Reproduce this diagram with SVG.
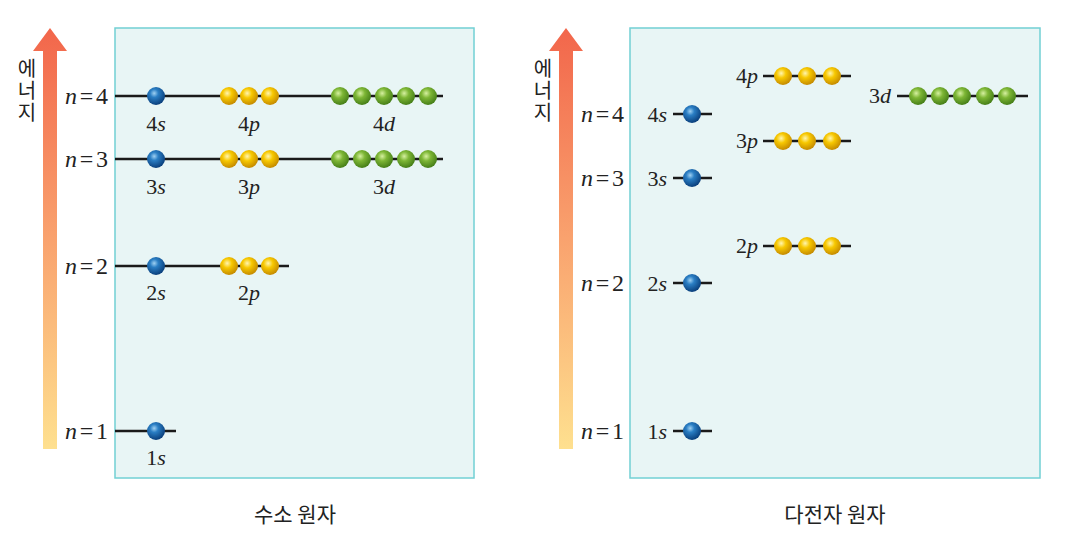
<svg xmlns="http://www.w3.org/2000/svg" width="1069" height="544" viewBox="0 0 1069 544">
<defs>
<linearGradient id="ag" x1="0" y1="0" x2="0" y2="1">
<stop offset="0" stop-color="#f2664b"/>
<stop offset="0.5" stop-color="#f9a26e"/>
<stop offset="1" stop-color="#fee08f"/>
</linearGradient>
<radialGradient id="gb" cx="0.4" cy="0.35" r="0.65">
<stop offset="0" stop-color="#9fd0f2"/>
<stop offset="0.35" stop-color="#2a7ec4"/>
<stop offset="1" stop-color="#0a3f7c"/>
</radialGradient>
<radialGradient id="gy" cx="0.4" cy="0.35" r="0.65">
<stop offset="0" stop-color="#fff5b0"/>
<stop offset="0.4" stop-color="#f7c800"/>
<stop offset="1" stop-color="#c58b00"/>
</radialGradient>
<radialGradient id="gg" cx="0.4" cy="0.35" r="0.65">
<stop offset="0" stop-color="#d6f0a0"/>
<stop offset="0.4" stop-color="#7db635"/>
<stop offset="1" stop-color="#467f18"/>
</radialGradient>
</defs>
<style>
.panel{fill:#e8f5f5;stroke:#72d0d4;stroke-width:1.5}
.lv{stroke:#1a1a1a;stroke-width:2.5}
.b{fill:url(#gb)}
.y{fill:url(#gy)}
.g{fill:url(#gg)}
.m{font-family:'Liberation Serif',serif;font-size:24px;fill:#222}
.s{font-family:'Liberation Serif',serif;font-size:22px;fill:#222}
.i{font-style:italic}
.k{font-family:'Noto Sans CJK KR',sans-serif;font-size:20px;fill:#222;writing-mode:vertical-rl;letter-spacing:2px}
.cap{font-family:'Noto Sans CJK KR',sans-serif;font-size:21px;fill:#222;text-anchor:middle}
</style>

<g id="left-panel">
<rect class="panel" x="115" y="28" width="359" height="450"/>
<path d="M43,449 V51 H33 L50,28 L67,51 H57 V449 Z" fill="url(#ag)"/>
<text class="k" x="27" y="58">에너지</text>
<text class="cap" x="295" y="522">수소 원자</text>
</g>

<g id="left-levels">
<g id="h-n4">
<line class="lv" x1="115" y1="96" x2="443" y2="96"/>
<circle class="b" cx="156" cy="96" r="9"/>
<circle class="y" cx="229" cy="96" r="9"/><circle class="y" cx="249" cy="96" r="9"/><circle class="y" cx="270" cy="96" r="9"/>
<circle class="g" cx="340" cy="96" r="9"/><circle class="g" cx="362" cy="96" r="9"/><circle class="g" cx="384" cy="96" r="9"/><circle class="g" cx="406" cy="96" r="9"/><circle class="g" cx="428" cy="96" r="9"/>
<text class="m" x="65" y="104" textLength="43" lengthAdjust="spacing"><tspan class="i">n</tspan>=4</text>
<text class="s" x="156" y="131" text-anchor="middle">4<tspan class="i">s</tspan></text>
<text class="s" x="249" y="131" text-anchor="middle">4<tspan class="i">p</tspan></text>
<text class="s" x="384" y="131" text-anchor="middle">4<tspan class="i">d</tspan></text>
</g>
<g id="h-n3">
<line class="lv" x1="115" y1="159" x2="443" y2="159"/>
<circle class="b" cx="156" cy="159" r="9"/>
<circle class="y" cx="229" cy="159" r="9"/><circle class="y" cx="249" cy="159" r="9"/><circle class="y" cx="270" cy="159" r="9"/>
<circle class="g" cx="340" cy="159" r="9"/><circle class="g" cx="362" cy="159" r="9"/><circle class="g" cx="384" cy="159" r="9"/><circle class="g" cx="406" cy="159" r="9"/><circle class="g" cx="428" cy="159" r="9"/>
<text class="m" x="65" y="167" textLength="43" lengthAdjust="spacing"><tspan class="i">n</tspan>=3</text>
<text class="s" x="156" y="194" text-anchor="middle">3<tspan class="i">s</tspan></text>
<text class="s" x="249" y="194" text-anchor="middle">3<tspan class="i">p</tspan></text>
<text class="s" x="384" y="194" text-anchor="middle">3<tspan class="i">d</tspan></text>
</g>
<g id="h-n2">
<line class="lv" x1="115" y1="266" x2="289" y2="266"/>
<circle class="b" cx="156" cy="266" r="9"/>
<circle class="y" cx="229" cy="266" r="9"/><circle class="y" cx="249" cy="266" r="9"/><circle class="y" cx="270" cy="266" r="9"/>
<text class="m" x="65" y="274" textLength="43" lengthAdjust="spacing"><tspan class="i">n</tspan>=2</text>
<text class="s" x="156" y="300" text-anchor="middle">2<tspan class="i">s</tspan></text>
<text class="s" x="249" y="300" text-anchor="middle">2<tspan class="i">p</tspan></text>
</g>
<g id="h-n1">
<line class="lv" x1="115" y1="431" x2="176" y2="431"/>
<circle class="b" cx="156" cy="431" r="9"/>
<text class="m" x="65" y="439" textLength="43" lengthAdjust="spacing"><tspan class="i">n</tspan>=1</text>
<text class="s" x="156" y="465" text-anchor="middle">1<tspan class="i">s</tspan></text>
</g>
</g>

<g id="right-panel">
<rect class="panel" x="630" y="28" width="410" height="450"/>
<path d="M559,449 V51 H549 L566,28 L583,51 H573 V449 Z" fill="url(#ag)"/>
<text class="k" x="543" y="58">에너지</text>
<text class="cap" x="835" y="522">다전자 원자</text>
</g>

<g id="right-levels">
<g id="m-n4">
<text class="m" x="581" y="122" textLength="43" lengthAdjust="spacing"><tspan class="i">n</tspan>=4</text>
<line class="lv" x1="673" y1="114" x2="712" y2="114"/>
<circle class="b" cx="692" cy="114" r="9"/>
<text class="s" x="667" y="122" text-anchor="end">4<tspan class="i">s</tspan></text>
</g>
<g id="m-n3">
<text class="m" x="581" y="186" textLength="43" lengthAdjust="spacing"><tspan class="i">n</tspan>=3</text>
<line class="lv" x1="673" y1="178" x2="712" y2="178"/>
<circle class="b" cx="692" cy="178" r="9"/>
<text class="s" x="667" y="186" text-anchor="end">3<tspan class="i">s</tspan></text>
</g>
<g id="m-n2">
<text class="m" x="581" y="291" textLength="43" lengthAdjust="spacing"><tspan class="i">n</tspan>=2</text>
<line class="lv" x1="673" y1="283" x2="712" y2="283"/>
<circle class="b" cx="692" cy="283" r="9"/>
<text class="s" x="667" y="291" text-anchor="end">2<tspan class="i">s</tspan></text>
</g>
<g id="m-n1">
<text class="m" x="581" y="439" textLength="43" lengthAdjust="spacing"><tspan class="i">n</tspan>=1</text>
<line class="lv" x1="673" y1="431" x2="712" y2="431"/>
<circle class="b" cx="692" cy="431" r="9"/>
<text class="s" x="667" y="439" text-anchor="end">1<tspan class="i">s</tspan></text>
</g>
<g id="m-4p">
<line class="lv" x1="763" y1="76" x2="851" y2="76"/>
<circle class="y" cx="783" cy="76" r="9"/><circle class="y" cx="807" cy="76" r="9"/><circle class="y" cx="832" cy="76" r="9"/>
<text class="s" x="758" y="83" text-anchor="end">4<tspan class="i">p</tspan></text>
</g>
<g id="m-3p">
<line class="lv" x1="763" y1="141" x2="851" y2="141"/>
<circle class="y" cx="783" cy="141" r="9"/><circle class="y" cx="807" cy="141" r="9"/><circle class="y" cx="832" cy="141" r="9"/>
<text class="s" x="758" y="148" text-anchor="end">3<tspan class="i">p</tspan></text>
</g>
<g id="m-2p">
<line class="lv" x1="763" y1="246" x2="851" y2="246"/>
<circle class="y" cx="783" cy="246" r="9"/><circle class="y" cx="807" cy="246" r="9"/><circle class="y" cx="832" cy="246" r="9"/>
<text class="s" x="758" y="253" text-anchor="end">2<tspan class="i">p</tspan></text>
</g>
<g id="m-3d">
<line class="lv" x1="897" y1="96" x2="1028" y2="96"/>
<circle class="g" cx="918" cy="96" r="9"/><circle class="g" cx="940" cy="96" r="9"/><circle class="g" cx="962" cy="96" r="9"/><circle class="g" cx="985" cy="96" r="9"/><circle class="g" cx="1007" cy="96" r="9"/>
<text class="s" x="891" y="103" text-anchor="end">3<tspan class="i">d</tspan></text>
</g>
</g>
</svg>
